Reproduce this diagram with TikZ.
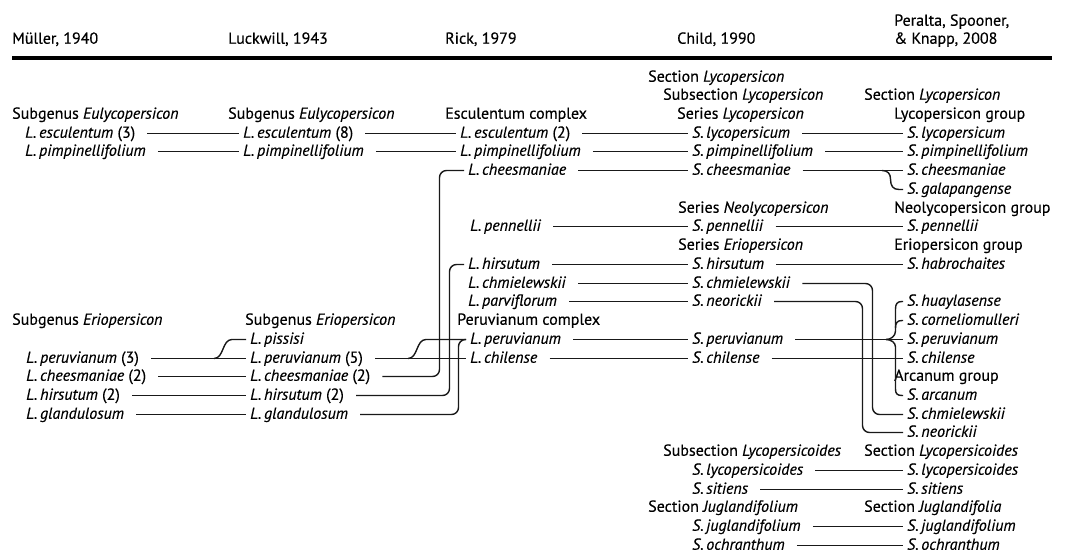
\documentclass[tikz,border=0pt]{standalone}
\usepackage{fontspec}
\setmainfont{PT Sans}[FakeBold=0.35]
\begin{document}
\begin{tikzpicture}[x=1pt,y=-1pt,
  lbl/.style={anchor=west, inner sep=0pt, text height=12pt, text depth=3.5pt,
              font=\fontsize{16}{19}\selectfont, text=black},
  conn/.style={draw=black!90, line width=1.4pt, shorten <=12pt, shorten >=4pt, rounded corners=7pt},
  br/.style={draw=black!90, line width=1.4pt, shorten >=4pt},
]
\path[use as bounding box] (0,0) rectangle (1070,559);

% headers
\node[lbl] (hM) at (12,39.5) {Müller, 1940};
\node[lbl] (hL) at (228,39.5) {Luckwill, 1943};
\node[lbl] (hR) at (445,39.5) {Rick, 1979};
\node[lbl] (hC) at (677,39.5) {Child, 1990};
\node[lbl] (hP1) at (894,21.5) {Peralta, Spooner,};
\node[lbl] (hP2) at (894,39.5) {\& Knapp, 2008};
\coordinate (ruleL) at (12,58);
\coordinate (ruleR) at (1052,58);
\draw[line width=4pt, black] (ruleL) -- (ruleR);

% Müller
\node[lbl] (m0) at (12,114.5) {Subgenus \textit{Eulycopersicon}};
\node[lbl] (m1) at (25,133.5) {\textit{L.\,esculentum} (3)};
\node[lbl] (m2) at (25,151.5) {\textit{L.\,pimpinellifolium}};
\node[lbl] (m3) at (12,320.5) {Subgenus \textit{Eriopersicon}};
\node[lbl] (m4) at (26,358.5) {\textit{L.\,peruvianum} (3)};
\node[lbl] (m5) at (26,376.5) {\textit{L.\,cheesmaniae} (2)};
\node[lbl] (m6) at (26,395.5) {\textit{L.\,hirsutum} (2)};
\node[lbl] (m7) at (26,414.5) {\textit{L.\,glandulosum}};

% Luckwill
\node[lbl] (l0) at (228,114.5) {Subgenus \textit{Eulycopersicon}};
\node[lbl] (l1) at (243,133.5) {\textit{L.\,esculentum} (8)};
\node[lbl] (l2) at (243,151.5) {\textit{L.\,pimpinellifolium}};
\node[lbl] (l3) at (245,320.5) {Subgenus \textit{Eriopersicon}};
\node[lbl] (l4) at (250,339.5) {\textit{L.\,pissisi}};
\node[lbl] (l5) at (250,358.5) {\textit{L.\,peruvianum} (5)};
\node[lbl] (l6) at (250,376.5) {\textit{L.\,cheesmaniae} (2)};
\node[lbl] (l7) at (250,395.5) {\textit{L.\,hirsutum} (2)};
\node[lbl] (l8) at (250,414.5) {\textit{L.\,glandulosum}};

% Rick
\node[lbl] (r0) at (445,114.5) {Esculentum complex};
\node[lbl] (r1) at (460,133.5) {\textit{L.\,esculentum} (2)};
\node[lbl] (r2) at (460,151.5) {\textit{L.\,pimpinellifolium}};
\node[lbl] (r3) at (468,170.5) {\textit{L.\,cheesmaniae}};
\node[lbl] (r4) at (470,226.5) {\textit{L.\,pennellii}};
\node[lbl] (r5) at (468,264.5) {\textit{L.\,hirsutum}};
\node[lbl] (r6) at (468,283.5) {\textit{L.\,chmielewskii}};
\node[lbl] (r7) at (468,301.5) {\textit{L.\,parviflorum}};
\node[lbl] (r8) at (457,320.5) {Peruvianum complex};
\node[lbl] (r9) at (470,339.5) {\textit{L.\,peruvianum}};
\node[lbl] (r10) at (470,358.5) {\textit{L.\,chilense}};

% Child
\node[lbl] (c0) at (648,77.5) {Section \textit{Lycopersicon}};
\node[lbl] (c1) at (663,95.5) {Subsection \textit{Lycopersicon}};
\node[lbl] (c2) at (677,114.5) {Series \textit{Lycopersicon}};
\node[lbl] (c3) at (692,133.5) {\textit{S.\,lycopersicum}};
\node[lbl] (c4) at (692,151.5) {\textit{S.\,pimpinellifolium}};
\node[lbl] (c5) at (692,170.5) {\textit{S.\,cheesmaniae}};
\node[lbl] (c6) at (678,208.5) {Series \textit{Neolycopersicon}};
\node[lbl] (c7) at (692,226.5) {\textit{S.\,pennellii}};
\node[lbl] (c8) at (678,245.5) {Series \textit{Eriopersicon}};
\node[lbl] (c9) at (692,264.5) {\textit{S.\,hirsutum}};
\node[lbl] (c10) at (692,283.5) {\textit{S.\,chmielewskii}};
\node[lbl] (c11) at (692,301.5) {\textit{S.\,neorickii}};
\node[lbl] (c12) at (692,339.5) {\textit{S.\,peruvianum}};
\node[lbl] (c13) at (692,358.5) {\textit{S.\,chilense}};
\node[lbl] (c14) at (663,451.5) {Subsection \textit{Lycopersicoides}};
\node[lbl] (c15) at (692,470.5) {\textit{S.\,lycopersicoides}};
\node[lbl] (c16) at (692,489.5) {\textit{S.\,sitiens}};
\node[lbl] (c17) at (648,507.5) {Section \textit{Juglandifolium}};
\node[lbl] (c18) at (692,526.5) {\textit{S.\,juglandifolium}};
\node[lbl] (c19) at (692,545.5) {\textit{S.\,ochranthum}};

% Peralta
\node[lbl] (p0) at (864,95.5) {Section \textit{Lycopersicon}};
\node[lbl] (p1) at (894,114.5) {Lycopersicon group};
\node[lbl] (p2) at (907,133.5) {\textit{S.\,lycopersicum}};
\node[lbl] (p3) at (907,151.5) {\textit{S.\,pimpinellifolium}};
\node[lbl] (p4) at (907,170.5) {\textit{S.\,cheesmaniae}};
\node[lbl] (p5) at (907,189.5) {\textit{S.\,galapangense}};
\node[lbl] (p6) at (894,208.5) {Neolycopersicon group};
\node[lbl] (p7) at (907,226.5) {\textit{S.\,pennellii}};
\node[lbl] (p8) at (894,245.5) {Eriopersicon group};
\node[lbl] (p9) at (907,264.5) {\textit{S.\,habrochaites}};
\node[lbl] (p10) at (907,301.5) {\textit{S.\,huaylasense}};
\node[lbl] (p11) at (907,320.5) {\textit{S.\,corneliomulleri}};
\node[lbl] (p12) at (907,339.5) {\textit{S.\,peruvianum}};
\node[lbl] (p13) at (907,358.5) {\textit{S.\,chilense}};
\node[lbl] (p14) at (894,376.5) {Arcanum group};
\node[lbl] (p15) at (907,395.5) {\textit{S.\,arcanum}};
\node[lbl] (p16) at (907,414.5) {\textit{S.\,chmielewskii}};
\node[lbl] (p17) at (907,432.5) {\textit{S.\,neorickii}};
\node[lbl] (p18) at (864,451.5) {Section \textit{Lycopersicoides}};
\node[lbl] (p19) at (907,470.5) {\textit{S.\,lycopersicoides}};
\node[lbl] (p20) at (907,489.5) {\textit{S.\,sitiens}};
\node[lbl] (p21) at (864,507.5) {Section \textit{Juglandifolia}};
\node[lbl] (p22) at (907,526.5) {\textit{S.\,juglandifolium}};
\node[lbl] (p23) at (907,545.5) {\textit{S.\,ochranthum}};

% helper coordinates
\coordinate (v6) at (439.5,300);
\coordinate (v7) at (449.5,330);
\coordinate (v8) at (458.5,380);
\coordinate (vc10) at (872.5,350);
\coordinate (vc11) at (862.5,370);
\coordinate (jpis) at (214,358.5);
\coordinate (kpis) at (232,339.5);
\coordinate (jp5) at (408,358.5);
\coordinate (kp5) at (426,339.5);
\coordinate (jgal) at (882,170.5);
\coordinate (jbr) at (886,339.5);
\coordinate (bq1) at (895.5,331);
\coordinate (bq2) at (895.5,309);
\coordinate (bq3) at (895.5,328);
\coordinate (bq4) at (895.5,347);
\coordinate (bq5) at (895.5,389);

% Müller -> Luckwill
\draw[conn] (m1.east) -- (l1.west);
\draw[conn] (m2.east) -- (l2.west);
\draw[conn] (m4.east) -- (l5.west);
\draw[conn] (m5.east) -- (l6.west);
\draw[conn] (m6.east) -- (l7.west);
\draw[conn] (m7.east) -- (l8.west);
\draw[br] (jpis) .. controls (224,358.5) and (222,339.5) .. (kpis) -- (l4.west);

% Luckwill -> Rick
\draw[conn] (l1.east) -- (r1.west);
\draw[conn] (l2.east) -- (r2.west);
\draw[conn] (l5.east) -- (r10.west);
\draw[br] (jp5) .. controls (418,358.5) and (416,339.5) .. (kp5) -- (r9.west);
\draw[conn] (l6.east) -| (v6) |- (r3.west);
\draw[conn] (l7.east) -| (v7) |- (r5.west);
\draw[conn] (l8.east) -| (v8) |- (r9.west);

% Rick -> Child
\draw[conn] (r1.east) -- (c3.west);
\draw[conn] (r2.east) -- (c4.west);
\draw[conn] (r3.east) -- (c5.west);
\draw[conn] (r4.east) -- (c7.west);
\draw[conn] (r5.east) -- (c9.west);
\draw[conn] (r6.east) -- (c10.west);
\draw[conn] (r7.east) -- (c11.west);
\draw[conn] (r9.east) -- (c12.west);
\draw[conn] (r10.east) -- (c13.west);

% Child -> Peralta
\draw[conn] (c3.east) -- (p2.west);
\draw[conn] (c4.east) -- (p3.west);
\draw[conn] (c5.east) -- (p4.west);
\draw[conn] (c7.east) -- (p7.west);
\draw[conn] (c9.east) -- (p9.west);
\draw[conn] (c10.east) -| (vc10) |- (p16.west);
\draw[conn] (c11.east) -| (vc11) |- (p17.west);
\draw[conn] (c12.east) -- (p12.west);
\draw[conn] (c13.east) -- (p13.west);
\draw[conn] (c15.east) -- (p19.west);
\draw[conn] (c16.east) -- (p20.west);
\draw[conn] (c18.east) -- (p22.west);
\draw[conn] (c19.east) -- (p23.west);

% galapangense branch
\draw[br] (jgal) .. controls (888,170.5) and (890.5,174) .. (890.5,179)
  .. controls (890.5,186) and (893,189.5) .. (899,189.5) -- (p5.west);
% curly bracket
\draw[br] (jbr) .. controls (891,339.5) and (895.5,336) .. (bq1) -- (bq2)
  .. controls (895.5,304) and (897,301.5) .. (902,301.5) -- (p10.west);
\draw[br] (bq3) .. controls (895.5,323) and (897,320.5) .. (902,320.5) -- (p11.west);
\draw[br] (jbr) .. controls (891,339.5) and (895.5,342.5) .. (bq4) -- (bq5)
  .. controls (895.5,393.5) and (897,395.5) .. (902,395.5) -- (p15.west);
\end{tikzpicture}
\end{document}
